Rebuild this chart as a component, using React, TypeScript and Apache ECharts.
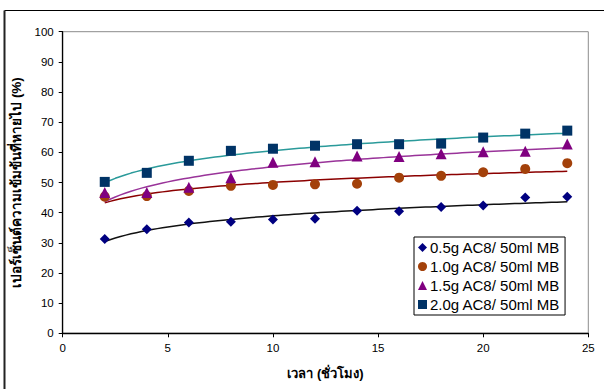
import React, { useEffect, useRef } from "react";
import * as echarts from "echarts";

const hours = [2, 4, 6, 8, 10, 12, 14, 16, 18, 20, 22, 24];
const s05 = [31.3, 34.5, 36.7, 37.0, 37.7, 38.0, 40.6, 40.5, 41.9, 42.4, 45.0, 45.3];
const s10 = [45.3, 45.5, 47.2, 48.9, 49.2, 49.4, 49.6, 51.6, 52.2, 53.4, 54.5, 56.4];
const s15 = [46.7, 46.7, 48.4, 51.6, 56.7, 56.9, 58.8, 58.6, 59.5, 60.2, 60.4, 62.8];
const s20 = [50.2, 53.2, 57.2, 60.5, 61.2, 62.2, 62.7, 62.7, 62.9, 64.9, 66.2, 67.2];
const seriesNames = [
  "0.5g AC8/ 50ml MB",
  "1.0g AC8/ 50ml MB",
  "1.5g AC8/ 50ml MB",
  "2.0g AC8/ 50ml MB",
];
const xTicks = [0, 5, 10, 15, 20, 25];
const yTicks = [0, 10, 20, 30, 40, 50, 60, 70, 80, 90, 100];

const markerColors = ["#000080", "#A3410A", "#800080", "#003366"];
const trendColors = ["#111111", "#8B0000", "#993399", "#2A9A9A"];
const symbols = ["diamond", "circle", "triangle", "rect"];
const symbolSizes = [10, 10, 11, 10];

// Excel-style logarithmic trendline: y = a ln(x) + b, least squares fit on the data
function logFit(xs: number[], ys: number[]) {
  const n = xs.length;
  const lx = xs.map((x) => Math.log(x));
  const mx = lx.reduce((s, v) => s + v, 0) / n;
  const my = ys.reduce((s, v) => s + v, 0) / n;
  let num = 0;
  let den = 0;
  for (let i = 0; i < n; i++) {
    num += (lx[i] - mx) * (ys[i] - my);
    den += (lx[i] - mx) * (lx[i] - mx);
  }
  const a = num / den;
  const b = my - a * mx;
  const pts: number[][] = [];
  const x0 = xs[0];
  const x1 = xs[n - 1];
  const steps = 88;
  for (let k = 0; k <= steps; k++) {
    const x = x0 + ((x1 - x0) * k) / steps;
    pts.push([x, a * Math.log(x) + b]);
  }
  return pts;
}

export default function App() {
  const ref = useRef<HTMLDivElement>(null);
  useEffect(() => {
    if (!ref.current) return;
    const chart = echarts.init(ref.current, undefined, { renderer: "svg" });
    const all = [s05, s10, s15, s20];
    const font = "Arial, 'Liberation Sans', sans-serif";
    const scatter = all.map((ys, i) => ({
      name: seriesNames[i],
      type: "scatter",
      symbol: symbols[i],
      symbolSize: symbolSizes[i],
      itemStyle: { color: markerColors[i], opacity: 1 },
      data: hours.map((h, j) => [h, ys[j]]),
      z: 3,
    }));
    const trends = all.map((ys, i) => ({
      name: "trend" + i,
      type: "line",
      showSymbol: false,
      symbol: "none",
      smooth: false,
      lineStyle: { color: trendColors[i], width: 1.5 },
      data: logFit(hours, ys),
      z: 2,
    }));
    chart.setOption({
      animation: false,
      backgroundColor: "#ffffff",
      grid: {
        left: 62.7,
        right: 15.7,
        top: 31.7,
        bottom: 55.7,
        show: true,
        borderColor: "#8c8c8c",
        borderWidth: 1,
        backgroundColor: "transparent",
      },
      xAxis: {
        type: "value",
        min: xTicks[0],
        max: xTicks[xTicks.length - 1],
        interval: 5,
        splitLine: { show: false },
        axisLine: { show: true, lineStyle: { color: "#000", width: 1.3 } },
        axisTick: { show: true, inside: false, length: 4, lineStyle: { color: "#000" } },
        axisLabel: { color: "#000", fontSize: 11.5, fontFamily: font, margin: 9 },
        name: "เวลา (ชั่วโมง)",
        nameLocation: "middle",
        nameGap: 34,
        nameTextStyle: { color: "#000", fontSize: 13, fontWeight: "bold", fontFamily: font },
      },
      yAxis: {
        type: "value",
        min: yTicks[0],
        max: yTicks[yTicks.length - 1],
        interval: 10,
        splitLine: { show: false },
        axisLine: { show: true, lineStyle: { color: "#000", width: 1.3 } },
        axisTick: { show: true, inside: false, length: 4, lineStyle: { color: "#000" } },
        axisLabel: { color: "#000", fontSize: 11.5, fontFamily: font, margin: 9 },
        name: "เปอร์เซ็นต์ความเข้มข้นที่หายไป (%)",
        nameLocation: "middle",
        nameGap: 38,
        nameRotate: 90,
        nameTextStyle: { color: "#000", fontSize: 13.5, fontWeight: "bold", fontFamily: font },
      },
      legend: {
        data: seriesNames.map((n, i) => ({ name: n, icon: symbols[i] })),
        orient: "vertical",
        left: 414,
        top: 237,
        width: 158,
        itemWidth: 9,
        itemHeight: 9,
        itemGap: 4,
        padding: [3, 5, 3, 4],
        borderColor: "#000",
        borderWidth: 1,
        backgroundColor: "#fff",
        textStyle: { color: "#000", fontSize: 15, fontFamily: font, padding: [0, 0, 0, -2] },
      },
      graphic: [
        {
          type: "line",
          shape: { x1: 4.5, y1: 10.5, x2: 604, y2: 10.5 },
          style: { stroke: "#000", lineWidth: 1 },
        },
        {
          type: "line",
          shape: { x1: 4.5, y1: 10.5, x2: 4.5, y2: 389 },
          style: { stroke: "#222", lineWidth: 2 },
        },
      ],
      series: [...trends, ...scatter],
    });
    return () => chart.dispose();
  }, []);
  return (
    <div
      ref={ref}
      style={{ position: "fixed", left: 0, top: 0, width: 604, height: 389, background: "#fff" }}
    />
  );
}
